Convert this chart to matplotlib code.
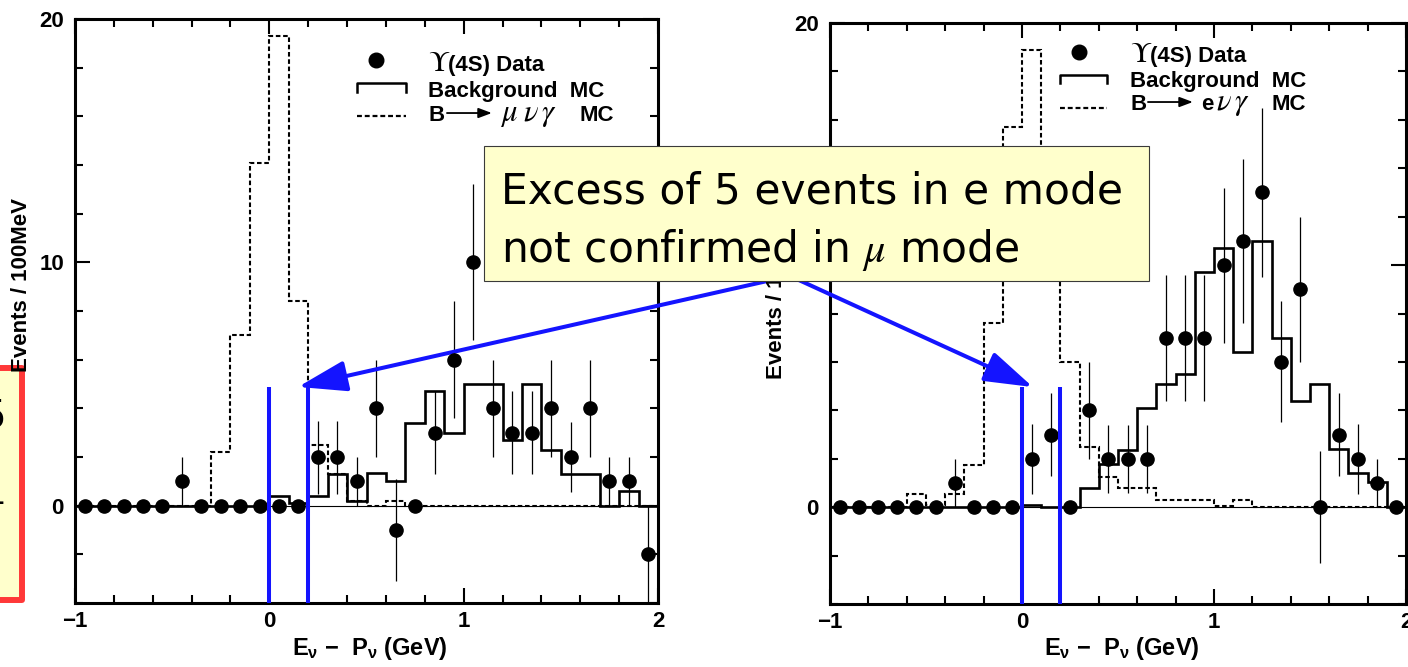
import numpy as np
import matplotlib.pyplot as plt
from matplotlib.patches import Rectangle
from matplotlib.ticker import MultipleLocator

plt.rcParams['font.family'] = ['Liberation Sans', 'DejaVu Sans']
plt.rcParams['mathtext.fontset'] = 'custom'
plt.rcParams['mathtext.rm'] = 'Liberation Sans:bold'
plt.rcParams['mathtext.bf'] = 'Liberation Sans:bold'
plt.rcParams['mathtext.it'] = 'Liberation Sans:bold'

# 100 MeV bins from -1 to 2 GeV
edges = np.round(np.linspace(-1.0, 2.0, 31), 2)
centers = edges[:-1] + 0.05

# ---- B -> mu nu gamma (left) ----
mu_data = [0, 0, 0, 0, 0, 1, 0, 0, 0, 0, 0, 0, 2, 2, 1, 4, -1, 0, 3, 6,
           10, 4, 3, 3, 4, 2, 4, 1, 1, -2]
mu_err = [0, 0, 0, 0, 0, 1.0, 0, 0, 0, 0, 0, 0, 1.5, 1.5, 1.0, 2.0, 2.1, 0, 1.7, 2.4,
          3.2, 2.0, 1.7, 1.7, 2.0, 1.45, 2.0, 1.0, 1.0, 2.0]
mu_bkg = [0, 0, 0, 0, 0, 0, 0, 0, 0, 0, 0.4, 0.1, 0.4, 1.3, 0.2, 1.35, 1.0, 3.4, 4.7, 3.0,
          5.0, 5.0, 2.7, 5.0, 2.3, 1.3, 1.3, 0, 0.6, 0]
mu_sig = [0, 0, 0, 0, 0, 0, 0, 2.2, 7.0, 14.1, 19.3, 8.4, 2.5, 1.3, 0.2, 0, 0.2, 0, 0, 0,
          0, 0, 0, 0, 0, 0, 0, 0, 0, 0]

# ---- B -> e nu gamma (right) ----
e_data = [0, 0, 0, 0, 0, 0, 1, 0, 0, 0, 2, 3, 0, 4, 2, 2, 2, 7, 7, 7,
          10, 11, 13, 6, 9, 0, 3, 2, 1, 0]
e_err = [0, 0, 0, 0, 0, 0, 1.0, 0, 0, 0, 1.45, 1.7, 0, 2.0, 1.4, 1.4, 1.4, 2.6, 2.6, 2.6,
         3.2, 3.4, 3.5, 2.5, 3.0, 2.3, 1.7, 1.45, 1.0, 0]
e_bkg = [0, 0, 0, 0, 0, 0, 0, 0, 0, 0, 0.1, 0, 0, 0.8, 1.8, 2.35, 4.1, 5.1, 5.5, 9.7,
         10.7, 6.4, 11.0, 7.0, 4.4, 5.1, 2.4, 1.4, 1.05, 0]
e_sig = [0, 0, 0, 0, 0.55, 0.1, 0.55, 1.75, 7.6, 15.7, 18.9, 10.5, 6.0, 2.5, 1.25, 0.8, 0.8, 0.3, 0.3, 0.3,
         0.05, 0.3, 0, 0, 0, 0, 0, 0, 0, 0]

# signal window and arrow tips
window = [0.0, 0.2]
mu_window_top, e_window_top = 4.88, 4.96
mu_tip = (0.148, 4.88)
e_tip = (0.057, 4.96)

W, H = 1408, 667
fig = plt.figure(figsize=(W / 100, H / 100), dpi=100)


def px(x, y):
    return x / W, 1 - y / H


ax1 = fig.add_axes([75 / W, (H - 603) / H, 583 / W, 584 / H])
ax2 = fig.add_axes([830 / W, (H - 604) / H, 576 / W, 581 / H])


def style_axes(ax):
    ax.set_xlim(-1, 2)
    ax.set_ylim(-4, 20)
    ax.xaxis.set_major_locator(MultipleLocator(1))
    ax.xaxis.set_minor_locator(MultipleLocator(0.2))
    ax.yaxis.set_major_locator(MultipleLocator(10))
    ax.yaxis.set_minor_locator(MultipleLocator(2))
    ax.tick_params(which='both', direction='in', top=True, right=True, width=1.5)
    ax.tick_params(which='major', length=11)
    ax.tick_params(which='minor', length=6)
    ax.tick_params(axis='x', pad=6, labelsize=16)
    ax.tick_params(axis='y', pad=8, labelsize=16)
    for lbl in ax.get_xticklabels() + ax.get_yticklabels():
        lbl.set_fontweight('bold')
    for s in ax.spines.values():
        s.set_linewidth(2.2)


def draw_panel(ax, data, err, bkg, sig, wtop):
    ax.axhline(0, color='k', lw=0.8, zorder=1)
    ax.stairs(bkg, edges, color='k', lw=1.9, baseline=None, zorder=2)
    ax.stairs(sig, edges, color='k', lw=1.5, ls=(0, (2.2, 1.3)), baseline=None, zorder=2)
    ax.errorbar(centers, data, yerr=err, fmt='o', color='k', ms=9.5,
                elinewidth=0.9, capsize=0, zorder=3)
    ax.vlines(window, -4, wtop, color='#1414ff', lw=2.9, zorder=5)


for ax in (ax1, ax2):
    style_axes(ax)
draw_panel(ax1, mu_data, mu_err, mu_bkg, mu_sig, mu_window_top)
draw_panel(ax2, e_data, e_err, e_bkg, e_sig, e_window_top)


# legends, built by hand (axes coordinates)
def legend(ax, mk, br, dash_y, tx, y1, y2, y3):
    t = ax.transAxes
    ax.plot([mk[0]], [mk[1]], 'o', color='k', ms=10.5, transform=t, clip_on=False)
    x0, x1, yb, yt = br
    ax.plot([x0, x0, x1, x1], [yb, yt, yt, yb], color='k', lw=1.8, transform=t)
    ax.plot([x0, x1], [dash_y, dash_y], color='k', lw=1.6, ls=(0, (2.2, 1.3)), transform=t)
    ax.text(tx, y1, r'$\Upsilon$', transform=t, fontsize=21, math_fontfamily='stix',
            va='baseline')
    ax.text(tx + 0.034, y1, '(4S) Data', transform=t, fontsize=16, weight='bold',
            va='baseline')
    ax.text(tx, y2, 'Background  MC', transform=t, fontsize=16, weight='bold',
            va='baseline')
    ax.text(tx, y3, 'B', transform=t, fontsize=16, weight='bold', va='baseline')


legend(ax1, (0.516, 0.930), (0.4837, 0.5678, 0.875, 0.890), 0.834, 0.6055, 0.911, 0.866, 0.825)
ax1.annotate('', xy=(0.715, 0.839), xytext=(0.638, 0.839), xycoords='axes fraction',
             arrowprops=dict(arrowstyle='-|>,head_length=0.8,head_width=0.3', color='k',
                             lw=1.3, shrinkA=0, shrinkB=0))
ax1.text(0.729, 0.825, r'$\mu\;\nu\,\gamma$', transform=ax1.transAxes, fontsize=22,
         math_fontfamily='stix', va='baseline')
ax1.text(0.866, 0.825, 'MC', transform=ax1.transAxes, fontsize=16, weight='bold',
         va='baseline')

legend(ax2, (0.432, 0.950), (0.399, 0.481, 0.897, 0.910), 0.854, 0.521, 0.933, 0.890, 0.850)
ax2.annotate('', xy=(0.630, 0.864), xytext=(0.552, 0.864), xycoords='axes fraction',
             arrowprops=dict(arrowstyle='-|>,head_length=0.8,head_width=0.3', color='k',
                             lw=1.3, shrinkA=0, shrinkB=0))
ax2.text(0.644, 0.850, 'e', transform=ax2.transAxes, fontsize=16, weight='bold',
         va='baseline')
ax2.text(0.670, 0.850, r'$\nu\,\gamma$', transform=ax2.transAxes, fontsize=22,
         math_fontfamily='stix', va='baseline')
ax2.text(0.766, 0.850, 'MC', transform=ax2.transAxes, fontsize=16, weight='bold',
         va='baseline')

# axis titles
xlab = r'E$_{\nu}$ $-$  P$_{\nu}$ (GeV)'
for xc in (370, 1122):
    fig.text(*px(xc, 649), xlab, ha='center', va='center', fontsize=17, weight='bold')
fig.text(*px(22, 285), 'Events / 100MeV', rotation=90, ha='center', va='center',
         fontsize=16, weight='bold')
fig.text(*px(777, 292), 'Events / 100MeV', rotation=90, ha='center', va='center',
         fontsize=16, weight='bold')

# blue arrows from the note down to the signal windows
arrow = dict(arrowstyle='-|>,head_length=3.0,head_width=0.95', color='#1414ff', lw=2.9,
             shrinkA=0, shrinkB=0, mutation_scale=10)
ax1.annotate('', xy=mu_tip, xycoords='data', xytext=px(785, 277),
             textcoords='figure fraction', arrowprops=arrow)
ax2.annotate('', xy=e_tip, xycoords='data', xytext=px(790, 276),
             textcoords='figure fraction', arrowprops=arrow)

# note box
x0, y0 = px(484, 281)
fig.add_artist(Rectangle((x0, y0), (1149 - 484) / W, (281 - 146) / H,
                         transform=fig.transFigure, facecolor='#ffffcc',
                         edgecolor='#3a3a3a', lw=0.8, zorder=4))
fig.text(*px(501, 203), 'Excess of 5 events in e mode', fontsize=30.5,
         family='DejaVu Sans', va='baseline', zorder=5)
fig.text(*px(501, 262), r'not confirmed in $\mu$ mode', fontsize=30.5,
         family='DejaVu Sans', math_fontfamily='stix', va='baseline', zorder=5)

# clipped side box at the left edge
fig.add_artist(Rectangle(px(-20, 600), 42 / W, (600 - 368) / H,
                         transform=fig.transFigure, facecolor='#ffffcc',
                         edgecolor='#ff3838', lw=4.3, joinstyle='round', zorder=2))
fig.text(*px(6, 417), '5', ha='right', va='center', fontsize=28,
         family='DejaVu Sans', zorder=3)
fig.text(*px(4, 502), '-', ha='right', va='center', fontsize=24,
         family='DejaVu Sans', zorder=3)

fig.savefig('out.png', dpi=100)
